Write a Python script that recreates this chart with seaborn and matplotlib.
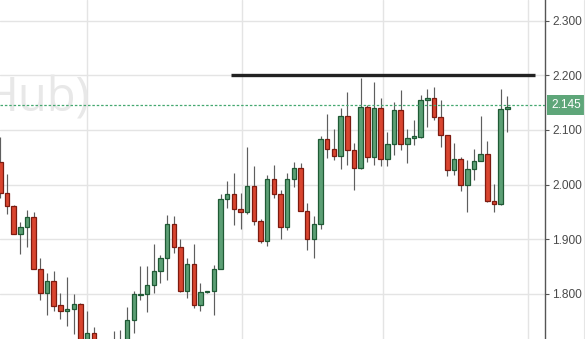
import numpy as np
import pandas as pd
import matplotlib
matplotlib.use("Agg")
import matplotlib.pyplot as plt
import seaborn as sns
from matplotlib.lines import Line2D

# ---- data ----
opens = [2.042, 1.985, 1.960, 1.909, 1.922, 1.940, 1.845, 1.802, 1.823, 1.780,
         1.769, 1.773, 1.781, 1.700, 1.729, 1.690, 1.675, 1.690, 1.700, 1.705,
         1.752, 1.798, 1.800, 1.816, 1.842, 1.866, 1.928, 1.885, 1.806, 1.854,
         1.780, 1.803, 1.805, 1.845, 1.973, 1.982, 1.955, 1.949, 1.997, 1.933,
         1.897, 2.010, 1.982, 1.922, 2.010, 2.030, 1.952, 1.900, 1.927, 2.083,
         2.065, 2.052, 2.126, 2.063, 2.030, 2.142, 2.050, 2.140, 2.046, 2.074,
         2.137, 2.074, 2.085, 2.088, 2.155, 2.158, 2.124, 2.090, 2.027, 2.046,
         1.999, 2.028, 2.043, 2.056, 1.970, 1.964, 2.138]
highs = [2.087, 2.019, 1.962, 1.932, 1.953, 1.950, 1.865, 1.838, 1.842, 1.802,
         1.830, 1.799, 1.783, 1.768, 1.740, 1.700, 1.705, 1.732, 1.734, 1.776,
         1.806, 1.851, 1.850, 1.891, 1.871, 1.944, 1.942, 1.900, 1.865, 1.891,
         1.820, 1.806, 1.853, 1.982, 2.007, 2.021, 1.984, 2.068, 2.034, 1.937,
         2.018, 2.036, 1.990, 2.022, 2.042, 2.040, 1.966, 1.943, 2.089, 2.129,
         2.101, 2.141, 2.170, 2.076, 2.196, 2.146, 2.187, 2.159, 2.096, 2.151,
         2.173, 2.102, 2.118, 2.164, 2.175, 2.178, 2.155, 2.090, 2.077, 2.051,
         2.045, 2.065, 2.126, 2.080, 2.001, 2.175, 2.163]
lows = [1.975, 1.946, 1.909, 1.873, 1.886, 1.845, 1.788, 1.761, 1.768, 1.753,
        1.741, 1.726, 1.690, 1.690, 1.680, 1.660, 1.660, 1.680, 1.690, 1.700,
        1.728, 1.788, 1.767, 1.802, 1.819, 1.826, 1.875, 1.804, 1.793, 1.774,
        1.768, 1.801, 1.762, 1.845, 1.957, 1.926, 1.918, 1.946, 1.926, 1.893,
        1.888, 1.975, 1.900, 1.917, 1.995, 1.951, 1.880, 1.866, 1.918, 2.048,
        2.045, 2.028, 2.036, 1.990, 2.028, 2.041, 2.036, 2.034, 2.034, 2.055,
        2.063, 2.039, 2.073, 2.086, 2.106, 2.118, 2.069, 2.016, 2.018, 1.989,
        1.949, 2.008, 2.043, 1.969, 1.949, 1.963, 2.096]
closes = [1.984, 1.961, 1.909, 1.922, 1.940, 1.845, 1.802, 1.823, 1.777, 1.769,
          1.773, 1.781, 1.700, 1.728, 1.690, 1.675, 1.690, 1.700, 1.705, 1.752,
          1.799, 1.800, 1.816, 1.842, 1.866, 1.928, 1.885, 1.806, 1.854, 1.780,
          1.803, 1.805, 1.845, 1.973, 1.982, 1.955, 1.949, 1.997, 1.933, 1.897,
          2.010, 1.982, 1.922, 2.010, 2.030, 1.952, 1.900, 1.927, 2.083, 2.065,
          2.052, 2.126, 2.063, 2.030, 2.143, 2.050, 2.140, 2.046, 2.074, 2.137,
          2.074, 2.085, 2.089, 2.155, 2.158, 2.124, 2.090, 2.027, 2.046, 1.999,
          2.028, 2.043, 2.056, 1.970, 1.964, 2.138, 2.142]

price_ticks = [1.8, 1.9, 2.0, 2.1, 2.2, 2.3]
price_labels = ["1.800", "1.900", "2.000", "2.100", "2.200", "2.300"]
current_price = 2.145
current_label = "2.145"
resistance_level = 2.200
resistance_start, resistance_end = 34.6, 80.2
vertical_grid = [13.0, 36.2, 57.4, 79.1]
watermark = "Hub)"

df = pd.DataFrame({"open": opens, "high": highs, "low": lows, "close": closes})
df["x"] = np.arange(len(df))
df["up"] = df["close"] >= df["open"]

# ---- style ----
sns.set_theme(style="white")
plt.rcParams["font.family"] = ["Liberation Sans", "DejaVu Sans"]

GREEN_FILL = "#5c9f75"
GREEN_EDGE = "#1f5a35"
RED_FILL = "#d9452f"
RED_EDGE = "#7d1b10"
WICK = "#5e5e5e"
GRID = "#e4e4e4"

fig = plt.figure(figsize=(5.85, 3.39), dpi=100)
ax = fig.add_axes([0, 0, 545 / 585, 1])
ax.set_facecolor("white")

# grid
for g in price_ticks:
    ax.axhline(g, color=GRID, lw=1.0, zorder=0)
for v in vertical_grid:
    ax.axvline(v, color=GRID, lw=1.0, zorder=0)

# watermark (partly hidden behind the left edge, as in the original)
ax.text(13.4, 2.1345, watermark, fontsize=34, color="#e8e8e8",
        family="Open Sans", ha="right", va="baseline", zorder=0.5, clip_on=True)

# wicks
ax.vlines(df["x"], df["low"], df["high"], color=WICK, lw=0.85, zorder=2)

# bodies
body_bottom = np.minimum(df["open"], df["close"])
body_h = np.maximum((df["close"] - df["open"]).abs(), 0.0015)
fills = np.where(df["up"], GREEN_FILL, RED_FILL)
edges = np.where(df["up"], GREEN_EDGE, RED_EDGE)
ax.bar(df["x"], body_h, bottom=body_bottom, width=0.68, color=fills,
       edgecolor=edges, linewidth=0.9, zorder=3)

# current price dashed line
ax.axhline(current_price, color="#45a870", lw=0.9, ls=(0, (2.0, 1.5)), zorder=4)

# resistance line
ax.hlines(resistance_level, resistance_start, resistance_end, color="#222222",
          lw=2.4, zorder=5)

# axes limits (pixel-calibrated)
ax.set_xlim(-0.06, 81.65)
ax.set_ylim(1.7172, 2.3381)

# right axis
ax.yaxis.tick_right()
ax.set_yticks(price_ticks)
ax.set_yticklabels(price_labels)
ax.tick_params(axis="y", which="both", right=True, left=False, length=3.2,
               width=0.8, color="#555555", pad=1.8, labelsize=8.6,
               labelcolor="#4a4a4a")
ax.set_xticks([])
for s in ["top", "left", "bottom"]:
    ax.spines[s].set_visible(False)
ax.spines["right"].set_color("#555555")
ax.spines["right"].set_linewidth(1.0)

# current price label box
ax.annotate(current_label, xy=(1.0, current_price),
            xycoords=("axes fraction", "data"), xytext=(4.6, 0),
            textcoords="offset points", ha="left", va="center",
            fontsize=8.6, color="white", annotation_clip=False,
            bbox=dict(boxstyle="square,pad=0.33", fc="#5ea679", ec="none"))

# right panel border
fig.add_artist(Line2D([583.5 / 585, 583.5 / 585], [0, 1], color="#e6e6e6",
                      lw=0.8, transform=fig.transFigure))

fig.savefig("out.png", dpi=100)
